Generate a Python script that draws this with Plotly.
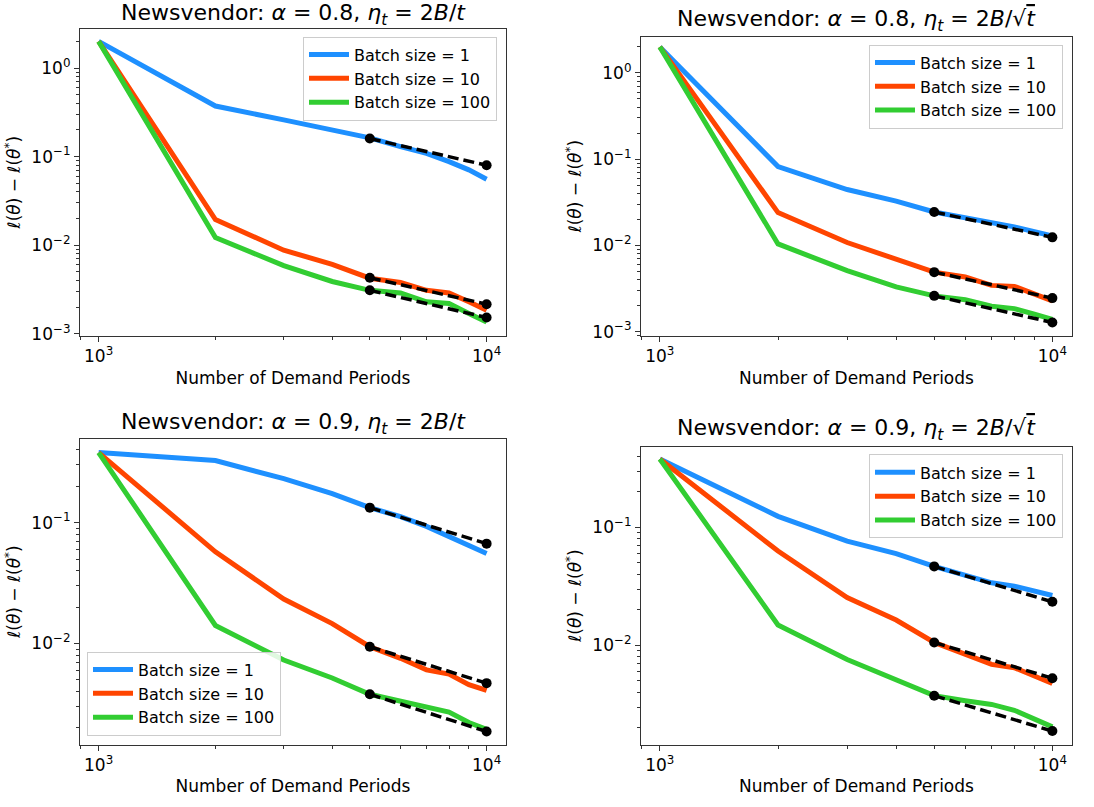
import plotly.graph_objects as go

# ---------------- data ----------------
periods = [1000, 2000, 3000, 4000, 5000, 6000, 7000, 8000, 9000, 10000]
fit_periods = [5000, 10000]
series_names = ["Batch size = 1", "Batch size = 10", "Batch size = 100"]

# Panel 1: alpha = 0.8, eta_t = 2B/t
p1_b1 = [2.0, 0.373, 0.26, 0.2, 0.163, 0.13, 0.109, 0.088, 0.071, 0.0556]
p1_b10 = [2.0, 0.0195, 0.0088, 0.0061, 0.00425, 0.0038, 0.0031, 0.0029, 0.0023, 0.00185]
p1_b100 = [2.0, 0.0122, 0.0059, 0.0039, 0.0031, 0.0029, 0.0023, 0.0022, 0.0017, 0.00136]
p1_fit_b1 = [0.16, 0.080]
p1_fit_b10 = [0.0043, 0.00216]
p1_fit_b100 = [0.0031, 0.00153]

# Panel 2: alpha = 0.8, eta_t = 2B/sqrt(t)
p2_b1 = [2.0, 0.082, 0.0444, 0.0326, 0.0244, 0.021, 0.0179, 0.0164, 0.0144, 0.0129]
p2_b10 = [2.0, 0.024, 0.0108, 0.007, 0.0049, 0.0043, 0.00344, 0.00335, 0.00275, 0.00227]
p2_b100 = [2.0, 0.0104, 0.0051, 0.0033, 0.0026, 0.00235, 0.00197, 0.00185, 0.0016, 0.00139]
p2_fit_b1 = [0.0244, 0.0124]
p2_fit_b10 = [0.0049, 0.00245]
p2_fit_b100 = [0.0026, 0.00128]

# Panel 3: alpha = 0.9, eta_t = 2B/t
p3_b1 = [0.38, 0.326, 0.231, 0.174, 0.133, 0.112, 0.093, 0.077, 0.0657, 0.0555]
p3_b10 = [0.38, 0.0573, 0.0233, 0.0146, 0.0094, 0.00754, 0.00605, 0.00558, 0.00457, 0.0041]
p3_b100 = [0.38, 0.0141, 0.0073, 0.00518, 0.0038, 0.00334, 0.00298, 0.00271, 0.00222, 0.00195]
p3_fit_b1 = [0.133, 0.067]
p3_fit_b10 = [0.0094, 0.0047]
p3_fit_b100 = [0.0038, 0.00187]

# Panel 4: alpha = 0.9, eta_t = 2B/sqrt(t)
p4_b1 = [0.38, 0.124, 0.0764, 0.06, 0.0467, 0.039, 0.0339, 0.0318, 0.0292, 0.0265]
p4_b10 = [0.38, 0.063, 0.0254, 0.0164, 0.0106, 0.00836, 0.0069, 0.00647, 0.00552, 0.00475]
p4_b100 = [0.38, 0.0149, 0.0076, 0.00516, 0.00375, 0.0034, 0.00316, 0.00282, 0.0024, 0.00204]
p4_fit_b1 = [0.0467, 0.0234]
p4_fit_b10 = [0.0106, 0.00526]
p4_fit_b100 = [0.00375, 0.00188]

x_tickvals = [1000, 10000]
x_ticktext = ["10<sup>3</sup>", "10<sup>4</sup>"]
y_tickvals = [0.001, 0.01, 0.1, 1]
y_ticktext = ["10<sup>\u22123</sup>", "10<sup>\u22122</sup>", "10<sup>\u22121</sup>", "10<sup>0</sup>"]

titles = [
    "Newsvendor: <i>\u03b1</i> = 0.8, <i>\u03b7</i><sub><i>t</i></sub> = 2<i>B</i>/<i>t</i>",
    "Newsvendor: <i>\u03b1</i> = 0.8, <i>\u03b7</i><sub><i>t</i></sub> = 2<i>B</i>/\u221a<span style='text-decoration:overline'><i>t</i></span>",
    "Newsvendor: <i>\u03b1</i> = 0.9, <i>\u03b7</i><sub><i>t</i></sub> = 2<i>B</i>/<i>t</i>",
    "Newsvendor: <i>\u03b1</i> = 0.9, <i>\u03b7</i><sub><i>t</i></sub> = 2<i>B</i>/\u221a<span style='text-decoration:overline'><i>t</i></span>",
]
x_title = "Number of Demand Periods"
y_title = "<i>\u2113</i>(<i>\u03b8</i>) \u2212 <i>\u2113</i>(<i>\u03b8</i><sup>*</sup>)"

colors = ["#1E90FF", "#FF4500", "#32CD32"]

panels = [
    ([p1_b1, p1_b10, p1_b100], [p1_fit_b1, p1_fit_b10, p1_fit_b100]),
    ([p2_b1, p2_b10, p2_b100], [p2_fit_b1, p2_fit_b10, p2_fit_b100]),
    ([p3_b1, p3_b10, p3_b100], [p3_fit_b1, p3_fit_b10, p3_fit_b100]),
    ([p4_b1, p4_b10, p4_b100], [p4_fit_b1, p4_fit_b10, p4_fit_b100]),
]

# ---------------- layout geometry (pixels) ----------------
W, H = 1094, 807
# (left, right, top, bottom) pixel box of each plot area
boxes = [
    (80, 506, 29, 339),
    (641, 1072, 37, 339),
    (80, 506, 443, 752),
    (641, 1072, 451, 752),
]
y_ranges = [(-3.02, 0.444), (-3.046, 0.42), (-2.836, -0.305), (-2.84, -0.315)]
x_range = (2.952, 4.05)
# legend anchor (x px, y px, xanchor, yanchor)
legend_pos = [
    (497, 37, "right", "top"),
    (1063, 45, "right", "top"),
    (87, 743, "left", "bottom"),
    (1063, 459, "right", "top"),
]
title_y = [15, 21, 428, 434]

minor_vals = [k * 10 ** e for e in range(-4, 5) for k in range(2, 10)]

fig = go.Figure()
FONT = "DejaVu Sans, Verdana, sans-serif"

for i, (curves, fits) in enumerate(panels):
    xa = "x" if i == 0 else f"x{i + 1}"
    ya = "y" if i == 0 else f"y{i + 1}"
    lg = "legend" if i == 0 else f"legend{i + 1}"
    for name, vals, col in zip(series_names, curves, colors):
        fig.add_trace(go.Scatter(
            x=periods, y=vals, mode="lines", name=name,
            line=dict(color=col, width=5), xaxis=xa, yaxis=ya,
            legend=lg, showlegend=True,
        ))
    for fv in fits:
        fig.add_trace(go.Scatter(
            x=fit_periods, y=fv, mode="lines+markers",
            line=dict(color="black", width=3.5, dash="11px,5px"),
            marker=dict(color="black", size=10),
            xaxis=xa, yaxis=ya, showlegend=False,
        ))

layout = dict(
    width=W, height=H,
    margin=dict(l=0, r=0, t=0, b=0),
    paper_bgcolor="white", plot_bgcolor="white",
    font=dict(family=FONT, size=16, color="black"),
    annotations=[],
)

for i, (l, r, t, b) in enumerate(boxes):
    xk = "xaxis" if i == 0 else f"xaxis{i + 1}"
    yk = "yaxis" if i == 0 else f"yaxis{i + 1}"
    ya_name = "y" if i == 0 else f"y{i + 1}"
    xa_name = "x" if i == 0 else f"x{i + 1}"
    axis_common = dict(
        showline=True, linecolor="#333333", linewidth=1.2, mirror=True,
        showgrid=False, zeroline=False,
        ticks="outside", ticklen=5, tickwidth=1, tickcolor="#333333",
        tickmode="array",
        tickfont=dict(family=FONT, size=17, color="black"),
        minor=dict(ticks="outside", ticklen=3, tickwidth=0.8, tickcolor="#333333",
                   tickmode="array", tickvals=minor_vals, showgrid=False),
    )
    layout[xk] = dict(
        axis_common, type="log", range=list(x_range),
        domain=[l / W, r / W], anchor=ya_name,
        tickvals=x_tickvals, ticktext=x_ticktext,
        title=dict(text=x_title, font=dict(size=17), standoff=6),
    )
    layout[yk] = dict(
        axis_common, type="log", range=list(y_ranges[i]),
        domain=[1 - b / H, 1 - t / H], anchor=xa_name,
        tickvals=y_tickvals, ticktext=y_ticktext,
        title=dict(text=y_title, font=dict(size=17), standoff=6),
    )
    lx, ly, xan, yan = legend_pos[i]
    lk = "legend" if i == 0 else f"legend{i + 1}"
    layout[lk] = dict(
        x=lx / W, y=1 - ly / H, xanchor=xan, yanchor=yan,
        xref="paper", yref="paper",
        bgcolor="rgba(255,255,255,0.85)", bordercolor="#cccccc", borderwidth=1,
        font=dict(family=FONT, size=16, color="black"),
        itemwidth=40, tracegroupgap=0,
    )
    layout["annotations"].append(dict(
        text=titles[i], x=(l + r) / 2 / W, y=1 - title_y[i] / H,
        xref="paper", yref="paper", xanchor="center", yanchor="middle",
        showarrow=False, font=dict(family=FONT, size=22, color="black"),
    ))

fig.update_layout(**layout)
fig.write_html("out.html")
